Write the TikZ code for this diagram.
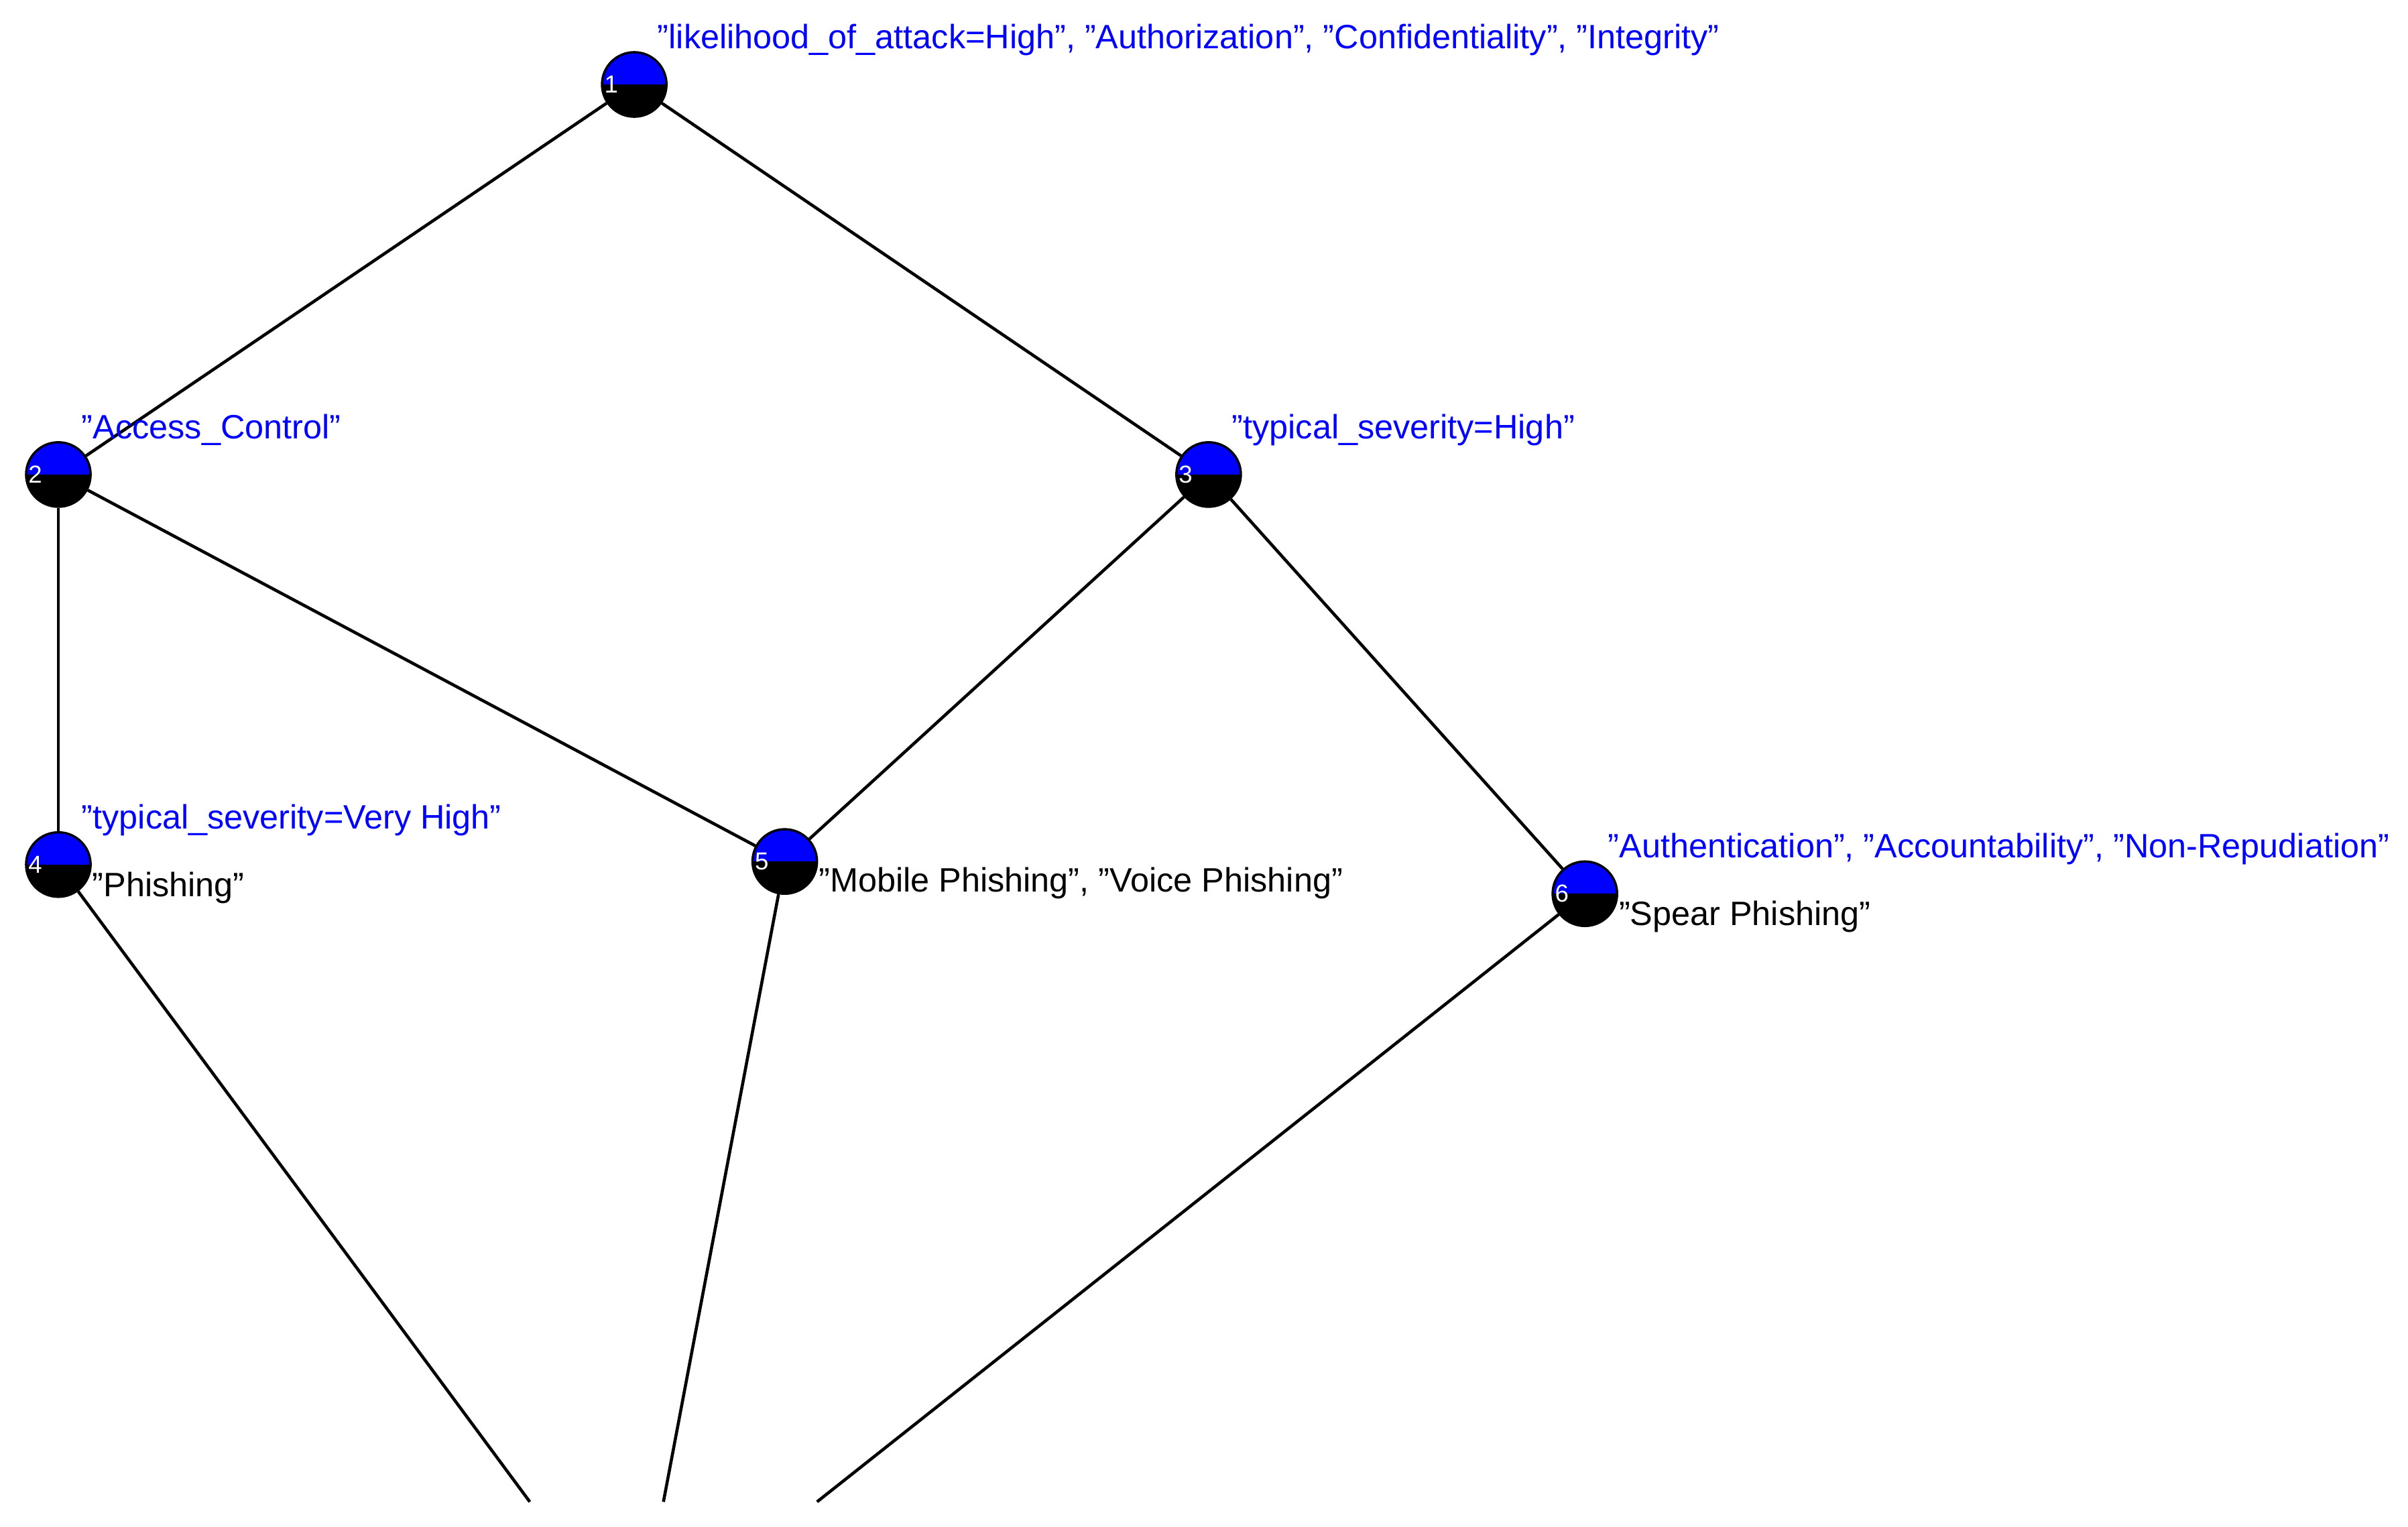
\documentclass[tikz,border=0pt]{standalone}
\usepackage{fontspec}
\setmainfont{Liberation Sans}
\newcommand\qq{\symbol{34}}
\definecolor{pblue}{RGB}{0,0,255}
\begin{document}
\begin{tikzpicture}[x=1pt,y=-1pt,
  vert/.style={circle,minimum size=42pt,inner sep=0pt,draw=black,line width=1.5pt,
    path picture={\fill[pblue] (path picture bounding box.north west) rectangle (path picture bounding box.east);
                  \fill[black] (path picture bounding box.west) rectangle (path picture bounding box.south east);}},
  num/.style={text=white,font=\fontsize{16}{16}\selectfont,inner sep=0pt},
  blab/.style={text=pblue,font=\fontsize{22}{24}\selectfont,anchor=west,inner sep=0pt},
  klab/.style={text=black,font=\fontsize{22}{24}\selectfont,anchor=west,inner sep=0pt},
  edge/.style={line width=2pt,black}]
\useasboundingbox (0,0) rectangle (1568,994);
\coordinate (e1) at (345,978);
\coordinate (e2) at (432,978);
\coordinate (e3) at (532,978);
\node[vert] (n1) at (413,55) {};
\node[vert] (n2) at (38,309) {};
\node[vert] (n3) at (787,309) {};
\node[vert] (n4) at (38,563) {};
\node[vert] (n5) at (511,561) {};
\node[vert] (n6) at (1032,582) {};
\draw[edge] (n1) -- (n2);
\draw[edge] (n1) -- (n3);
\draw[edge] (n2) -- (n4);
\draw[edge] (n2) -- (n5);
\draw[edge] (n3) -- (n5);
\draw[edge] (n3) -- (n6);
\draw[edge] (n4) -- (e1);
\draw[edge] (n5) -- (e2);
\draw[edge] (n6) -- (e3);
\foreach \n/\k in {n1/1,n2/2,n3/3,n4/4,n5/5,n6/6}{
  \node[num] (m\k) at ([xshift=-15pt]\n.center) {\k};
}
\node[blab] (l1) at (428,26) {\qq likelihood\_of\_attack=High\qq, \qq Authorization\qq, \qq Confidentiality\qq, \qq Integrity\qq};
\node[blab] (l2) at (53,280) {\qq Access\_Control\qq};
\node[blab] (l3) at (802,280) {\qq typical\_severity=High\qq};
\node[blab] (l4) at (53,534) {\qq typical\_severity=Very High\qq};
\node[blab] (l6) at (1047,553) {\qq Authentication\qq, \qq Accountability\qq, \qq Non-Repudiation\qq};
\node[klab] (k4) at (60,578) {\qq Phishing\qq};
\node[klab] (k5) at (533,575) {\qq Mobile Phishing\qq, \qq Voice Phishing\qq};
\node[klab] (k6) at (1054,597) {\qq Spear Phishing\qq};
\end{tikzpicture}
\end{document}
